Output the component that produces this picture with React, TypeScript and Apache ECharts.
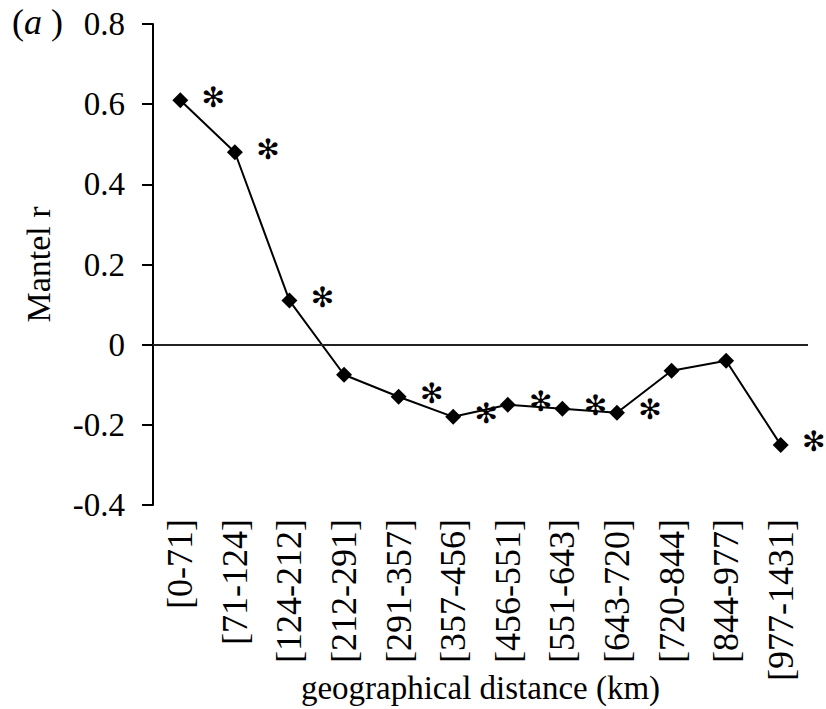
import React, { useEffect, useRef } from "react";
import * as echarts from "echarts";

const categories = [
  "[0-71]", "[71-124]", "[124-212]", "[212-291]", "[291-357]", "[357-456]",
  "[456-551]", "[551-643]", "[643-720]", "[720-844]", "[844-977]", "[977-1431]",
];
const mantelR = [0.61, 0.48, 0.11, -0.075, -0.13, -0.18, -0.15, -0.16, -0.17, -0.065, -0.04, -0.25];
const significant = [true, true, true, false, true, true, true, true, true, false, false, true];
const yTicks = { min: -0.4, max: 0.8, interval: 0.2 };

const FONT = "'Liberation Serif', 'Times New Roman', serif";

export default function App() {
  const ref = useRef<HTMLDivElement>(null);
  useEffect(() => {
    if (!ref.current) return;
    const chart = echarts.init(ref.current, undefined, { renderer: "svg" });
    chart.setOption({
      animation: false,
      textStyle: { fontFamily: FONT, color: "#000" },
      grid: {
        left: 153,
        right: 18,
        top: 24,
        bottom: 204,
        containLabel: false,
        outerBoundsMode: "none",
      },
      graphic: [
        {
          type: "text",
          left: 12,
          top: 4,
          style: {
            text: "{n|(}{i|a}{n| )}",
            fontSize: 36,
            fontFamily: FONT,
            fill: "#000",
            rich: {
              n: { fontFamily: FONT, fontSize: 36, fill: "#000" },
              i: { fontFamily: FONT, fontSize: 36, fontStyle: "italic", fill: "#000" },
            },
          },
        },
      ],
      xAxis: {
        type: "category",
        data: categories,
        boundaryGap: true,
        axisLine: { show: false, onZero: false },
        axisTick: { show: false },
        axisLabel: {
          rotate: 90,
          margin: 14,
          fontSize: 36,
          fontFamily: FONT,
          color: "#000",
          interval: 0,
        },
        name: "geographical distance (km)",
        nameLocation: "middle",
        nameGap: 166,
        nameMoveOverlap: false,
        nameTextStyle: { fontSize: 33, fontFamily: FONT, color: "#000" },
      },
      yAxis: {
        type: "value",
        min: yTicks.min,
        max: yTicks.max,
        interval: yTicks.interval,
        axisLine: { show: true, lineStyle: { color: "#000", width: 2 } },
        axisTick: { show: true, inside: false, length: 11, lineStyle: { color: "#000", width: 2 } },
        splitLine: { show: false },
        axisLabel: {
          margin: 28,
          fontSize: 33,
          fontFamily: FONT,
          color: "#000",
          formatter: (v: number) => (Math.abs(v) < 1e-9 ? "0" : String(Math.round(v * 10) / 10)),
        },
        name: "Mantel r",
        nameLocation: "middle",
        nameRotate: 90,
        nameGap: 98,
        nameMoveOverlap: false,
        nameTextStyle: { fontSize: 34, fontFamily: FONT, color: "#000" },
      },
      series: [
        {
          type: "line",
          data: mantelR.map((v, i) => ({
            value: v,
            label: {
              show: significant[i],
              formatter: "✻",
              position: "inside",
              offset: [33, -3],
              fontSize: 28,
              fontWeight: "bold",
              fontFamily: "'DejaVu Sans', sans-serif",
              color: "#000",
            },
          })),
          symbol: "diamond",
          symbolSize: 16,
          itemStyle: { color: "#000" },
          lineStyle: { color: "#000", width: 2 },
          markLine: {
            silent: true,
            symbol: "none",
            label: { show: false },
            lineStyle: { color: "#222", width: 2, type: "solid" },
            data: [{ yAxis: 0 }],
          },
          z: 3,
        },
      ],
    });
    return () => chart.dispose();
  }, []);
  return <div ref={ref} style={{ width: 826, height: 709, position: "absolute", left: 0, top: 0 }} />;
}
